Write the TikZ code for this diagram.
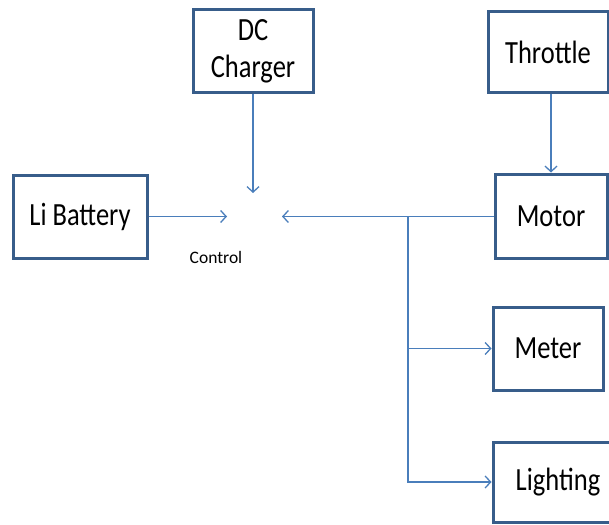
\documentclass[tikz,border=0pt]{standalone}
\usepackage{fontspec}
\usepackage{graphicx}
\setmainfont{Carlito}
\usetikzlibrary{arrows.meta}
\definecolor{boxblue}{HTML}{385D8A}
\definecolor{linkblue}{HTML}{4A7EBB}
\newcommand\vst[1]{\scalebox{1}[1.22]{#1}}
\begin{document}
\begin{tikzpicture}[x=1pt,y=-1pt,
  blk/.style={draw=boxblue,line width=3pt,fill=white,inner sep=0pt,align=center,
    font=\fontsize{26.5}{33}\selectfont},
  arr/.style={draw=linkblue,line width=1.3pt,-{Straight Barb[length=5.5pt,width=12pt,line width=1.3pt]}},
  lnk/.style={draw=linkblue,line width=1.3pt}]
\useasboundingbox (0,0) rectangle (609,524);
\clip (0,0) rectangle (609,524);
\node[blk,minimum width=120pt,minimum height=83pt] (dc) at (253,51.5) {\vst{DC}\\[4pt]\vst{Charger}};
\node[blk,minimum width=120pt,minimum height=81pt] (throttle) at (548,52.5) {\vst{Throttle}};
\node[blk,minimum width=112pt,minimum height=84pt] (motor) at (551,216) {\vst{Motor}};
\node[blk,minimum width=134pt,minimum height=83pt] (li) at (80,216.5) {\vst{Li Battery}};
\node[blk,minimum width=110pt,minimum height=83pt] (meter) at (548,348.5) {\vst{Meter}};
\node[blk,minimum width=130pt,minimum height=80pt,text width=130pt] (lighting) at (558,482) {\vst{Lighting}};
\node[font=\fontsize{17.5}{20}\selectfont] (ctl) at (216,257) {Control};
\coordinate (ctlL) at (227,216.5);
\coordinate (ctlT) at (253,193);
\coordinate (ctlR) at (282,216.5);
\coordinate (junc) at (408,216.5);
\draw[arr] (li.east) -- (ctlL);
\draw[arr] (dc.south) -- (ctlT);
\draw[arr] (motor.west |- 0,216.5) -- (ctlR);
\draw[arr] (motor.north |- throttle.south) -- (motor.north);
\draw[arr] (junc) |- (meter.west);
\draw[arr] (junc) |- (lighting.west);
\end{tikzpicture}
\end{document}
